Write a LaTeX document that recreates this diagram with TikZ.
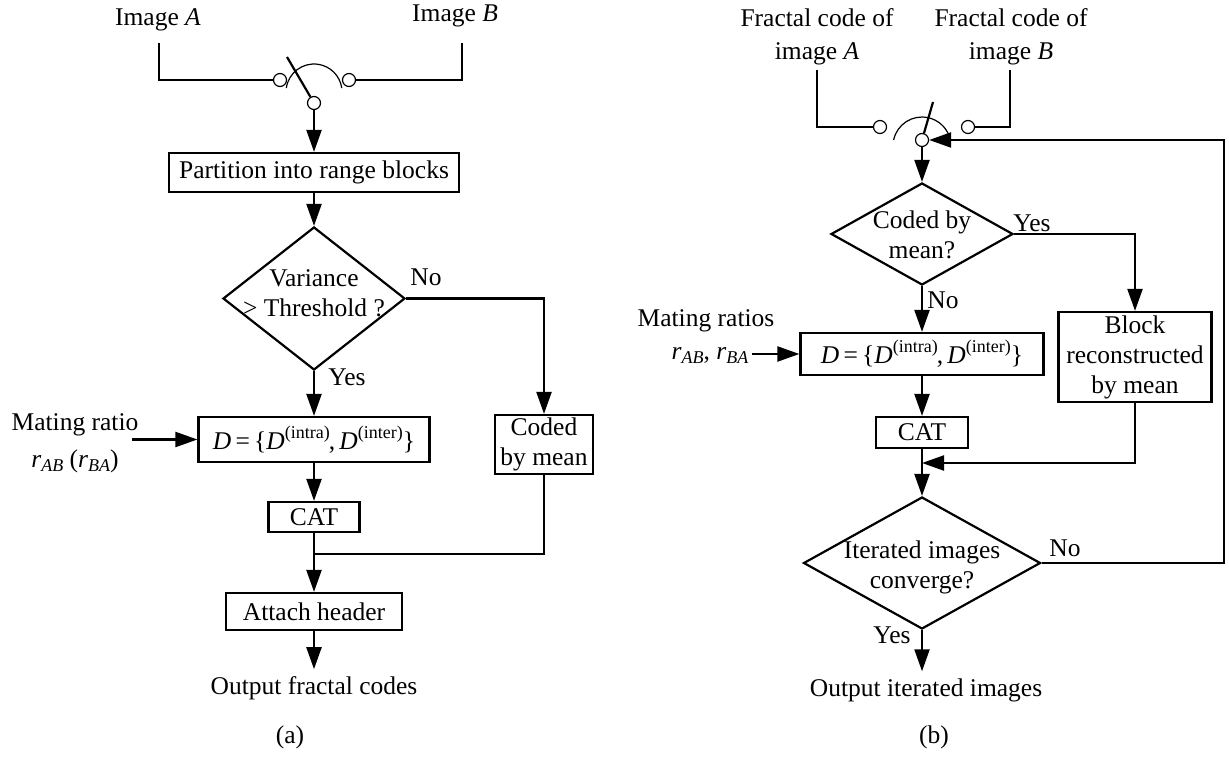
\documentclass[tikz,border=0pt]{standalone}
\usepackage{fontspec}
\setmainfont{Liberation Serif}
\usetikzlibrary{arrows.meta,shapes.geometric}
\newcommand{\sbt}[1]{\raisebox{-0.35ex}{\fontsize{9}{9}\selectfont\textit{#1}}}
\newcommand{\spt}[1]{\raisebox{0.95ex}{\fontsize{9}{9}\selectfont #1}}
\begin{document}
\begin{tikzpicture}[x=0.5pt,y=-0.5pt,
  font=\fontsize{12.75}{16.5}\selectfont,
  line width=1.1pt,
  arr/.style={-{Triangle[length=11pt,width=7.5pt]}},
  box/.style={draw, rectangle, inner sep=0pt, align=center},
  dia/.style={draw, diamond, inner sep=0pt},
  term/.style={draw, circle, line width=0.6pt, minimum size=6.5pt, inner sep=0pt, fill=white},
  txt/.style={inner sep=0pt, align=center}]
\useasboundingbox (0,0) rectangle (1229,758);

% ---------------- panel (a) ----------------
\node[txt] (imgA) at (158,20) {Image \textit{A}};
\node[txt] (imgB) at (455,16) {Image \textit{B}};
\coordinate (wA) at (159,43);
\coordinate (wB) at (462,43);
\node[term] (cA) at (280,80) {};
\node[term] (cB) at (349,80) {};
\node[term] (pA) at (314,103) {};
\coordinate (bladeA) at (287,57);
\draw (wA) |- (cA);
\draw (wB) |- (cB);
\draw (pA) -- (bladeA);
\draw[line width=0.6pt] (286.3,88.1) arc[start angle=172,end angle=8,radius=14pt];

\node[box, minimum width=145pt, minimum height=19.5pt] (part) at (314,172.5) {Partition into range blocks};
\draw[arr] (pA) -- (part);

\node[dia, minimum width=91pt, minimum height=71.5pt] (d1) at (314,298.5) {};
\node[txt, font=\fontsize{12.75}{15}\selectfont] (d1t) at (314,293) {Variance\\> Threshold ?};
\draw[arr] (part) -- (d1);
\node[txt] (noA) at (426,277) {No};

\node[box, minimum width=49pt, minimum height=29.5pt, font=\fontsize{12.75}{15}\selectfont] (coded) at (544,444.5) {Coded\\by mean};
\draw[arr] (d1.east) -| (coded);

\node[box, minimum width=115.5pt, minimum height=22.5pt] (DA) at (314,439.5)
  {\textit{D}\,=\,\{\textit{D}\spt{(intra)}\kern-0.5pt,\,\textit{D}\spt{(inter)}\}};
\draw[arr] (d1.south) -- (DA);
\node[txt] (yesA) at (347,377) {Yes};

\node[txt] (matA) at (75,443) {Mating ratio\\[2pt]\textit{r}\sbt{AB} (\textit{r}\sbt{BA})};
\coordinate (matAin) at (132,439.5);
\draw[arr] (matAin) -- (DA);

\node[box, minimum width=45.5pt, minimum height=15pt] (catA) at (314,517) {CAT};
\draw[arr] (DA) -- (catA);

\node[box, minimum width=88pt, minimum height=18.5pt] (att) at (314,611.5) {Attach header};
\coordinate (jA) at (314,554);
\draw (coded) |- (jA);
\draw[arr] (catA) -- (att);

\node[txt, inner sep=3pt] (outA) at (314,688) {Output fractal codes};
\draw[arr] (att) -- (outA);
\node[txt] (capA) at (290,737) {(a)};

% ---------------- panel (b) ----------------
\node[txt] (fcA) at (817,37) {Fractal code of\\image \textit{A}};
\node[txt] (fcB) at (1011,37) {Fractal code of\\image \textit{B}};
\coordinate (wC) at (817,70);
\coordinate (wD) at (1010,70);
\node[term] (cC) at (880,127) {};
\node[term] (cD) at (968,127) {};
\node[term] (pB) at (922,140) {};
\coordinate (bladeB) at (933,102);
\draw (wC) |- (cC);
\draw (wD) |- (cD);
\draw (pB) -- (bladeB);
\draw[line width=0.6pt] (893.6,140) arc[start angle=168,end angle=20,radius=14.5pt];

\node[dia, minimum width=91pt, minimum height=51pt] (d2) at (922,234) {};
\node[txt, font=\fontsize{12.75}{15}\selectfont] (d2t) at (922,235) {Coded by\\mean?};
\draw[arr] (pB) -- (d2);
\node[txt] (yesB) at (1032,223) {Yes};

\node[box, minimum width=76.5pt, minimum height=45pt, font=\fontsize{12.75}{15}\selectfont] (blk) at (1135,357) {Block\\reconstructed\\by mean};
\draw[arr] (d2.east) -| (blk);

\node[txt] (noB) at (943,300) {No};
\node[box, minimum width=121.5pt, minimum height=21pt] (DB) at (922,354)
  {\textit{D}\,=\,\{\textit{D}\spt{(intra)}\kern-0.5pt,\,\textit{D}\spt{(inter)}\}};
\draw[arr] (d2.south) -- (DB);

\node[txt] (matB) at (706,337) {Mating ratios\\\hspace*{4pt}\textit{r}\sbt{AB}, \textit{r}\sbt{BA}};
\coordinate (matBin) at (752,354);
\draw[arr] (matBin) -- (DB);

\node[box, minimum width=46pt, minimum height=15.5pt] (catB) at (922,432.5) {CAT};
\draw[arr] (DB) -- (catB);

\node[dia, minimum width=118.5pt, minimum height=66pt] (d3) at (922,563) {};
\node[txt, font=\fontsize{12.75}{15}\selectfont] (d3t) at (922,567) {Iterated images\\converge?};
\coordinate (mB) at (922,463);
\draw[arr] (catB) -- (d3);
\draw[arr] (blk) |- (mB);

\node[txt] (noB2) at (1065,548) {No};
\coordinate (fb1) at (1224,563);
\coordinate (fb2) at (1224,140);
\draw[arr] (d3.east) -- (fb1) -- (fb2) -- (pB);

\node[txt] (yesB2) at (892,635) {Yes};
\node[txt, inner sep=3pt] (outB) at (926,690) {Output iterated images};
\draw[arr] (d3.south) -- (d3.south |- outB.north);
\node[txt] (capB) at (934,737) {(b)};
\end{tikzpicture}
\end{document}
